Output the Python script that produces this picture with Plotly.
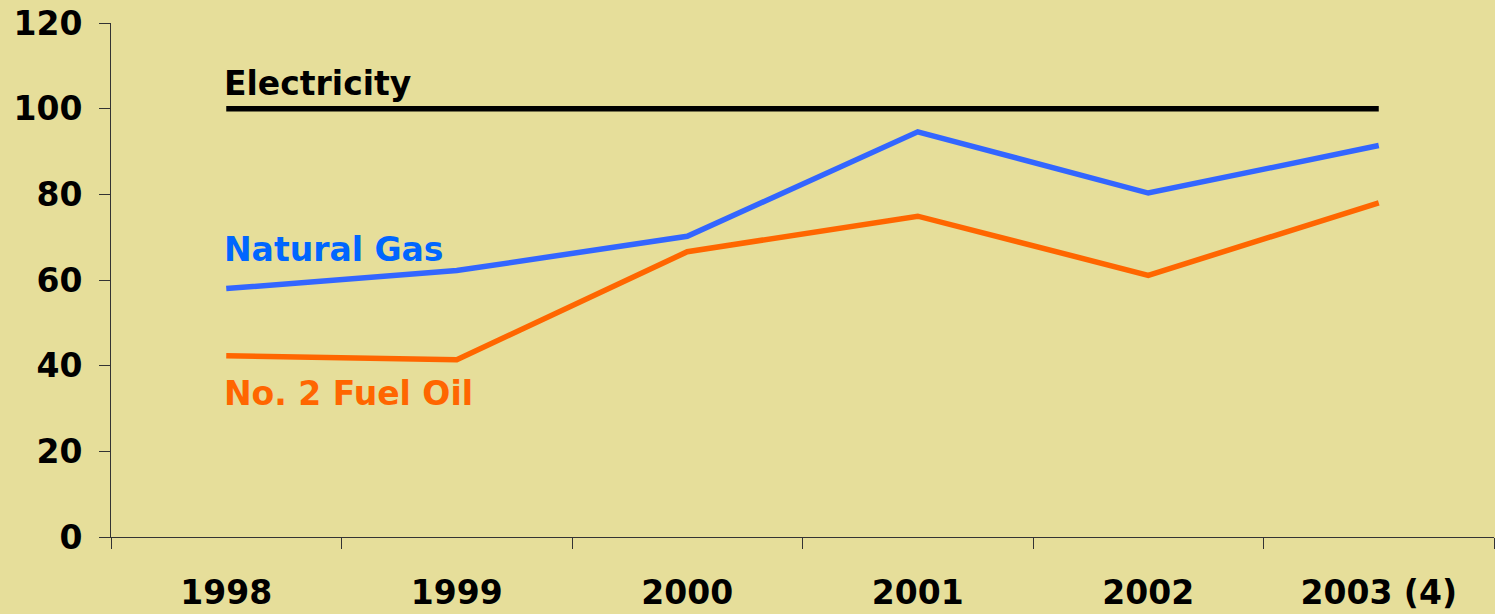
import plotly.graph_objects as go

years = ["1998", "1999", "2000", "2001", "2002", "2003 (4)"]
electricity = [100, 100, 100, 100, 100, 100]
natural_gas = [58.0, 62.2, 70.2, 94.6, 80.3, 91.4]
fuel_oil = [42.3, 41.4, 66.6, 74.9, 61.1, 78.0]
y_ticks = [0, 20, 40, 60, 80, 100, 120]

BG = "#E6DE9A"
FONT = "DejaVu Sans"

fig = go.Figure()
fig.add_trace(go.Scatter(x=years, y=electricity, mode="lines",
                         line=dict(color="#000000", width=5.5), name="Electricity"))
fig.add_trace(go.Scatter(x=years, y=natural_gas, mode="lines",
                         line=dict(color="#3366FF", width=5.5), name="Natural Gas"))
fig.add_trace(go.Scatter(x=years, y=fuel_oil, mode="lines",
                         line=dict(color="#FF6600", width=5.5), name="No. 2 Fuel Oil"))

# annotations use the category index of the first year
fig.add_annotation(x=0, y=105.9, xref="x", yref="y", text="<b>Electricity</b>",
                   showarrow=False, xanchor="left", yanchor="middle", xshift=-4,
                   font=dict(family=FONT, size=33, color="#000000"))
fig.add_annotation(x=0, y=67.2, xref="x", yref="y", text="<b>Natural Gas</b>",
                   showarrow=False, xanchor="left", yanchor="middle", xshift=-4,
                   font=dict(family=FONT, size=33, color="#0066FF"))
fig.add_annotation(x=0, y=33.5, xref="x", yref="y", text="<b>No. 2 Fuel Oil</b>",
                   showarrow=False, xanchor="left", yanchor="middle", xshift=-4,
                   font=dict(family=FONT, size=33, color="#FF6600"))

fig.update_layout(
    width=1495, height=614,
    paper_bgcolor=BG, plot_bgcolor=BG,
    margin=dict(l=111, r=1, t=23, b=77),
    showlegend=False,
    font=dict(family=FONT, size=33, color="#000000"),
    xaxis=dict(type="category", range=[-0.5, 5.5], tickson="boundaries",
               showline=True, linecolor="#333333", linewidth=1,
               ticks="outside", ticklen=11, tickcolor="#333333",
               showgrid=False, zeroline=False,
               tickfont=dict(family=FONT, size=33, color="#000000"),
               tickvals=years, ticktext=[f"<b>{y}</b>" for y in years],
               ticklabelstandoff=26),
    yaxis=dict(range=[0, 120], tickvals=y_ticks,
               ticktext=[f"<b>{v}</b>" for v in y_ticks],
               showline=True, linecolor="#333333", linewidth=1,
               ticks="outside", ticklen=11, tickcolor="#333333",
               showgrid=False, zeroline=False,
               tickfont=dict(family=FONT, size=33, color="#000000"),
               ticklabelstandoff=10),
)

fig.write_html("out.html", config={"displayModeBar": False},
               post_script="document.body.style.margin='0px';document.body.style.overflow='hidden';")
